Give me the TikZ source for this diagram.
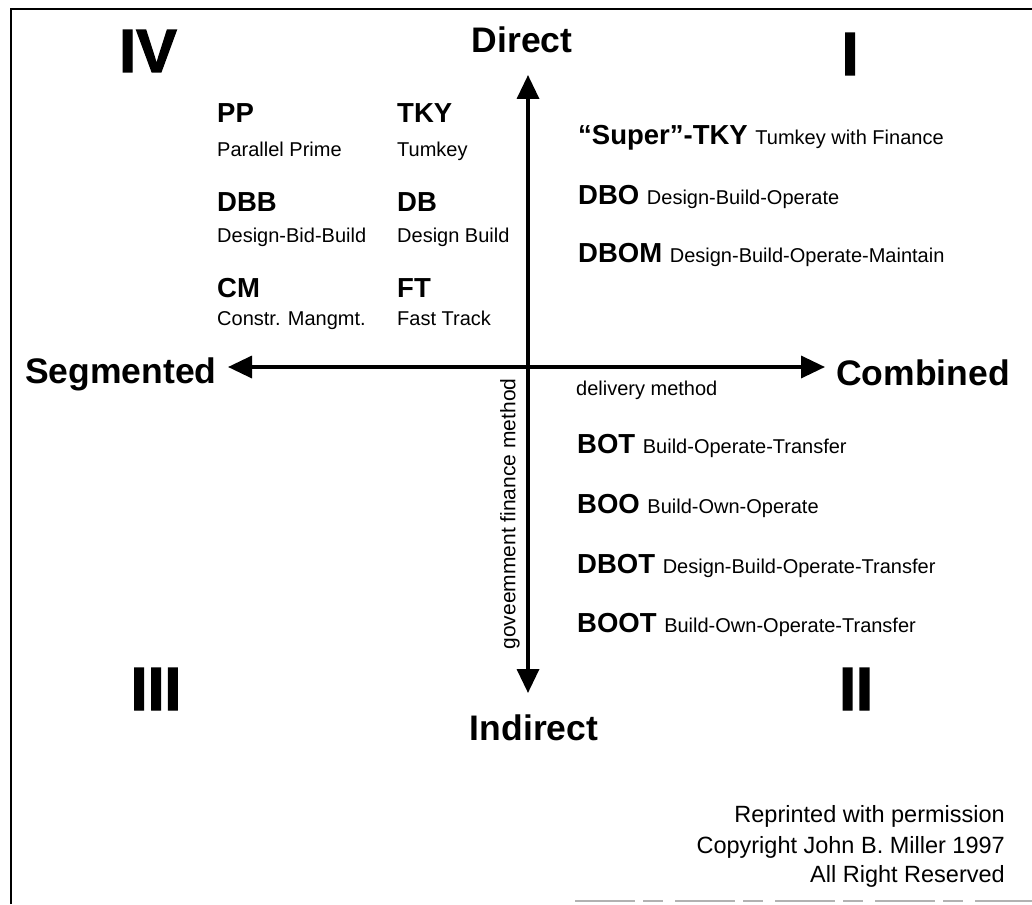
\documentclass[tikz,border=0pt]{standalone}
\usepackage{fontspec}
\setmainfont{Liberation Sans}
\usetikzlibrary{arrows.meta}

\tikzset{
  numeral/.style={anchor=base, inner sep=0pt, font=\fontsize{61}{61}\selectfont\bfseries\addfontfeature{FakeBold=2}},
  axislabel/.style={inner sep=0pt, font=\fontsize{35.5}{36}\selectfont\bfseries},
  method/.style={anchor=base west, inner sep=0pt, font=\fontsize{27.5}{28}\selectfont\bfseries},
  methodname/.style={anchor=base west, inner sep=0pt, font=\fontsize{20}{20}\selectfont},
  note/.style={anchor=base east, inner sep=0pt, font=\fontsize{23.5}{24}\selectfont},
  axis/.style={line width=3.5pt, {Triangle[length=24pt,width=22pt]}-{Triangle[length=24pt,width=22pt]}},
}
\newcommand{\longname}[1]{{\fontsize{20}{20}\selectfont\mdseries #1}}

\begin{document}
\begin{tikzpicture}[x=1pt, y=-1pt]
        \useasboundingbox (0,0) rectangle (1032,904);

        % Draw the frame
        \draw[line width=2.5pt] (11,904) -- (11,9) -- (1032,9);
        \draw[line width=1.5pt, black!30, dash pattern=on 60pt off 8pt on 20pt off 12pt] (575,901) -- (1032,901);

        % Draw the axes
        \coordinate (top) at (528,75);
        \coordinate (bottom) at (528,693);
        \coordinate (left) at (228,367);
        \coordinate (right) at (825,367);
        \draw[axis] (bottom) -- (top);
        \draw[axis] (left) -- (right);

        % Axis labels
        \node[axislabel, anchor=base] (direct) at (522,53) {Direct};
        \node[axislabel, anchor=base] (indirect) at (534,740) {Indirect};
        \node[axislabel, anchor=base west] (segmented) at (25,383) {Segmented};
        \node[axislabel, anchor=base west] (combined) at (836,385) {Combined};
        \node[rotate=90, inner sep=0pt, font=\fontsize{21}{21}\selectfont] (finance) at (510,514) {goveemment finance method};
        \node[methodname] (delivery) at (576,395) {delivery method};

        % Quadrant numbers
        \node[numeral] (quad4) at (148,72) {IV};
        \node[numeral] (quad1) at (850,75) {I};
        \node[numeral] (quad3) at (156,710) {III};
        \node[numeral] (quad2) at (856,710) {II};

        % Quadrant IV, two columns
        \node[method] (pp) at (217,123) {PP};
        \node[methodname] (ppname) at (217,157) {Parallel Prime};
        \node[method] (dbb) at (217,211) {DBB};
        \node[methodname] (dbbname) at (217,242) {Design-Bid-Build};
        \node[method] (cm) at (217,297) {CM};
        \node[methodname] (cmname) at (217,325) {Constr. Mangmt.};

        \node[method] (tky) at (397,123) {TKY};
        \node[methodname] (tkyname) at (397,157) {Tumkey};
        \node[method] (db) at (397,211) {DB};
        \node[methodname] (dbname) at (397,242) {Design Build};
        \node[method] (ft) at (397,297) {FT};
        \node[methodname] (ftname) at (397,325) {Fast Track};

        % Quadrant I
        \node[method] (supertky) at (578,145) {“Super”-TKY \longname{Tumkey with Finance}};
        \node[method] (dbo) at (578,204) {DBO \longname{Design-Build-Operate}};
        \node[method] (dbom) at (578,262) {DBOM \longname{Design-Build-Operate-Maintain}};

        % Quadrant II
        \node[method] (bot) at (577,453) {BOT \longname{Build-Operate-Transfer}};
        \node[method] (boo) at (577,513) {BOO \longname{Build-Own-Operate}};
        \node[method] (dbot) at (577,573) {DBOT \longname{Design-Build-Operate-Transfer}};
        \node[method] (boot) at (577,632) {BOOT \longname{Build-Own-Operate-Transfer}};

        % Reprint note
        \node[note] (reprint) at (1005,822) {Reprinted with permission};
        \node[note] (copyright) at (1005,853) {Copyright John B. Miller 1997};
        \node[note] (reserved) at (1005,882) {All Right Reserved};

    \end{tikzpicture}
\end{document}
